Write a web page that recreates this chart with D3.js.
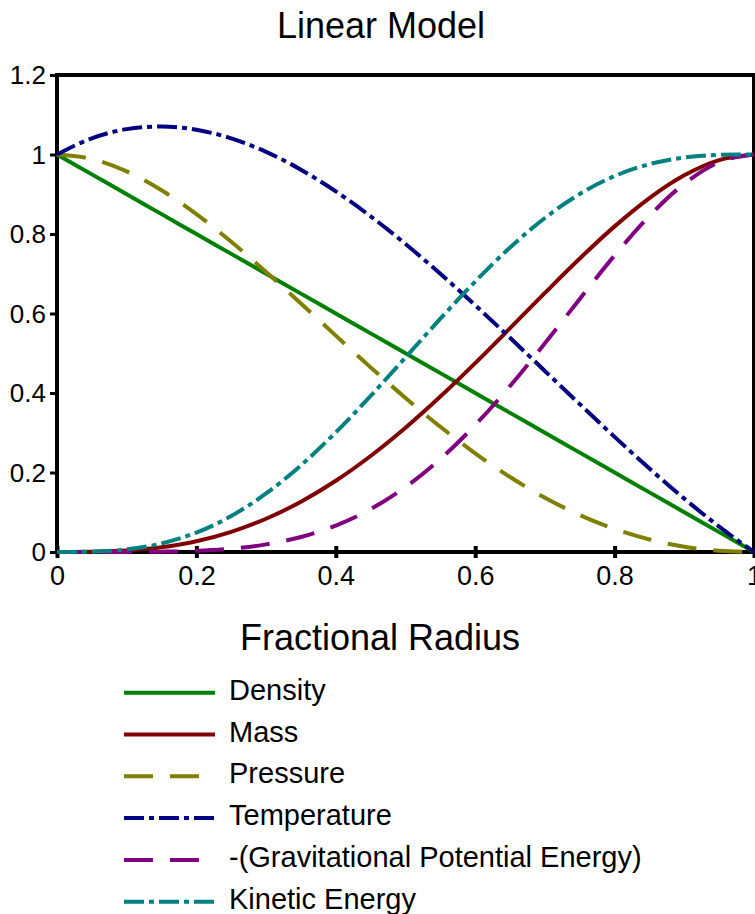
<!DOCTYPE html>
<html>
<head>
<meta charset="utf-8">
<script src="https://cdn.jsdelivr.net/npm/d3@7"></script>
<style>
  body { margin: 0; background: #fff; }
  text { font-family: "Liberation Sans", Arial, sans-serif; fill: #000; }
</style>
</head>
<body>
<div id="vis"></div>
<script>
// fractional radius sample points
const radius = [0, 0.05, 0.1, 0.15, 0.2, 0.25, 0.3, 0.35, 0.4, 0.45, 0.5,
  0.55, 0.6, 0.65, 0.7, 0.75, 0.8, 0.85, 0.9, 0.95, 1];

const density = [1, 0.95, 0.9, 0.85, 0.8, 0.75, 0.7, 0.65, 0.6, 0.55, 0.5,
  0.45, 0.4, 0.35, 0.3, 0.25, 0.2, 0.15, 0.1, 0.05, 0];
const mass = [0, 0.0005, 0.0037, 0.012, 0.0272, 0.0508, 0.0837, 0.1265, 0.1792, 0.2415, 0.3125,
  0.391, 0.4752, 0.563, 0.6517, 0.7383, 0.8192, 0.8905, 0.9477, 0.986, 1];
const pressure = [1, 0.9887, 0.9574, 0.91, 0.8499, 0.7805, 0.7046, 0.6251, 0.5443, 0.4645, 0.3875,
  0.315, 0.2483, 0.1886, 0.1366, 0.093, 0.0579, 0.0315, 0.0134, 0.0032, 0];
const temperature = [1, 1.0407, 1.0638, 1.0706, 1.0624, 1.0406, 1.0066, 0.9617, 0.9072, 0.8445, 0.775,
  0.7, 0.6208, 0.5388, 0.4554, 0.3719, 0.2896, 0.2099, 0.1342, 0.0638, 0];
const gravEnergy = [0, 0, 0.0001, 0.0008, 0.003, 0.0084, 0.0192, 0.0377, 0.0665, 0.1078, 0.1635,
  0.2341, 0.3194, 0.4175, 0.5249, 0.6366, 0.7461, 0.8456, 0.9266, 0.9806, 1];
const kineticEnergy = [0, 0.0008, 0.0066, 0.0215, 0.0488, 0.0905, 0.1472, 0.2181, 0.301, 0.3927, 0.4895,
  0.5869, 0.6804, 0.7661, 0.8403, 0.9006, 0.9457, 0.9758, 0.9925, 0.999, 1];

const xTicks = [0, 0.2, 0.4, 0.6, 0.8, 1];
const yTicks = [0, 0.2, 0.4, 0.6, 0.8, 1, 1.2];

const series = [
  { name: "Density", values: density, color: "#008000", dash: null },
  { name: "Mass", values: mass, color: "#800000", dash: null },
  { name: "Pressure", values: pressure, color: "#808000", dash: "29,17" },
  { name: "Temperature", values: temperature, color: "#000080", dash: "20,5,5,5" },
  { name: "-(Gravitational Potential Energy)", values: gravEnergy, color: "#800080", dash: "29,17" },
  { name: "Kinetic Energy", values: kineticEnergy, color: "#008080", dash: "20,5,5,5" }
];

const W = 755, H = 914;
const plotLeft = 57, plotRight = 754, plotTop = 75, plotBottom = 552;

const svg = d3.select("#vis").append("svg")
  .attr("width", W)
  .attr("height", H);

const x = d3.scaleLinear().domain([0, 1]).range([plotLeft, plotRight]);
const y = d3.scaleLinear().domain([0, 1.2]).range([plotBottom, plotTop]);

svg.append("text")
  .attr("x", 381).attr("y", 38)
  .attr("text-anchor", "middle")
  .style("font-size", "36px")
  .text("Linear Model");

// frame
svg.append("rect")
  .attr("x", plotLeft).attr("y", plotTop)
  .attr("width", plotRight - plotLeft).attr("height", plotBottom - plotTop)
  .attr("fill", "none")
  .attr("stroke", "#000")
  .attr("stroke-width", 4);

const yAxis = svg.append("g")
  .attr("transform", `translate(${plotLeft},0)`)
  .call(d3.axisLeft(y).tickValues(yTicks).tickFormat(d3.format("")).tickSize(7).tickPadding(4));
yAxis.select(".domain").remove();
yAxis.selectAll(".tick line").attr("stroke-width", 3);
yAxis.selectAll(".tick text")
  .attr("dy", "0.34em")
  .style("font-size", "26px");

const xAxis = svg.append("g")
  .attr("transform", `translate(0,${plotBottom})`)
  .call(d3.axisBottom(x).tickValues(xTicks).tickFormat(d3.format("")).tickSize(6).tickPadding(8));
xAxis.select(".domain").remove();
xAxis.selectAll(".tick line").attr("y1", -6).attr("y2", 6).attr("stroke-width", 4);
xAxis.selectAll(".tick text")
  .attr("dy", "0.71em")
  .style("font-size", "27px");

svg.append("text")
  .attr("x", 380).attr("y", 650)
  .attr("text-anchor", "middle")
  .style("font-size", "36px")
  .text("Fractional Radius");

const line = d3.line()
  .x((d, i) => x(radius[i]))
  .y(d => y(d))
  .curve(d3.curveMonotoneX);

svg.selectAll(".series")
  .data(series)
  .join("path")
  .attr("class", "series")
  .attr("d", d => line(d.values))
  .attr("fill", "none")
  .attr("stroke", d => d.color)
  .attr("stroke-width", 4)
  .attr("stroke-dasharray", d => d.dash);

// legend
const legend = svg.append("g")
  .selectAll("g")
  .data(series)
  .join("g")
  .attr("transform", (d, i) => `translate(0,${692.7 + i * 41.8})`);

legend.append("line")
  .attr("x1", 124).attr("x2", 215)
  .attr("stroke", d => d.color)
  .attr("stroke-width", 4)
  .attr("stroke-dasharray", d => d.dash);

legend.append("text")
  .attr("x", 229).attr("y", 7)
  .style("font-size", "29px")
  .text(d => d.name);
</script>
</body>
</html>
